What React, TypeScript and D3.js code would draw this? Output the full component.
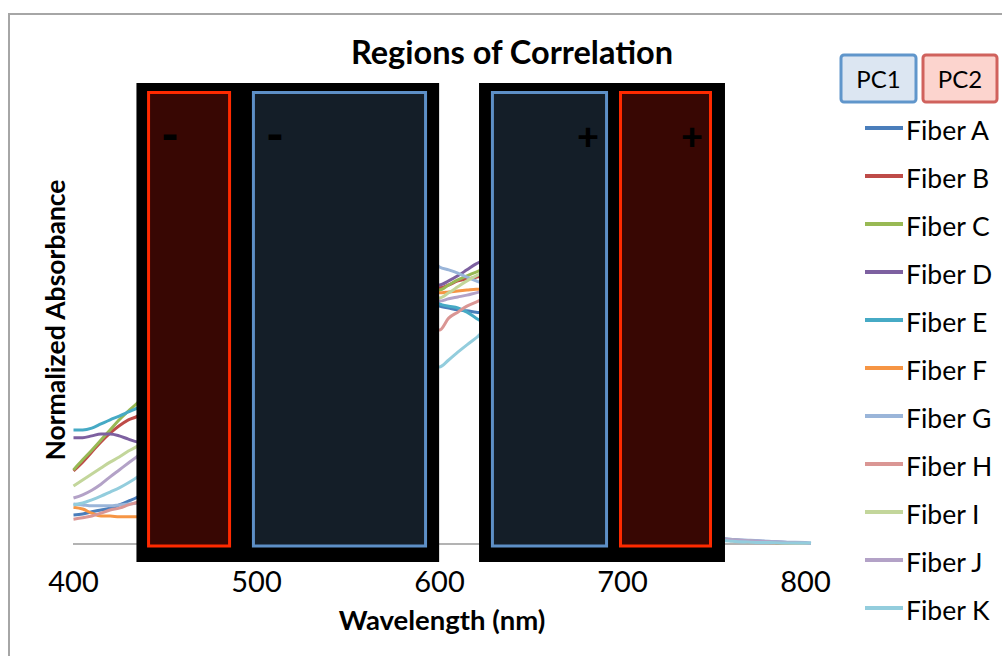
import React from "react";
import * as d3 from "d3";

const wavelengths = [400,405,410,415,420,425,430,435,460,500,540,570,595,600,605,610,615,620,625,650,700,745,750,760,770,780,790,800,803];

const fiberA = [0.063,0.065,0.070,0.074,0.078,0.085,0.093,0.102, 0.25,0.62,0.78,0.70,0.55, 0.517,0.513,0.509,0.507,0.504,0.502, 0.36,0.17,0.025,0.015, 0.008,0.006,0.004,0.002,0.001,0.001];
const fiberB = [0.159,0.178,0.200,0.222,0.241,0.257,0.270,0.278, 0.45,0.75,0.85,0.78,0.60, 0.557,0.563,0.572,0.576,0.580,0.583, 0.42,0.18,0.025,0.014, 0.008,0.006,0.004,0.002,0.001,0.001];
const fiberC = [0.161,0.183,0.204,0.226,0.248,0.270,0.289,0.307, 0.47,0.78,0.88,0.80,0.60, 0.552,0.563,0.574,0.583,0.591,0.598, 0.44,0.19,0.026,0.015, 0.009,0.006,0.004,0.002,0.001,0.001];
const fiberD = [0.231,0.231,0.235,0.239,0.239,0.235,0.228,0.222, 0.30,0.62,0.80,0.75,0.58, 0.563,0.572,0.583,0.596,0.609,0.617, 0.50,0.22,0.028,0.016, 0.009,0.007,0.005,0.003,0.001,0.001];
const fiberE = [0.248,0.248,0.252,0.261,0.270,0.278,0.287,0.296, 0.42,0.70,0.82,0.74,0.56, 0.522,0.517,0.513,0.504,0.491,0.478, 0.36,0.15,0.024,0.014, 0.008,0.006,0.004,0.002,0.001,0.001];
const fiberF = [0.080,0.076,0.067,0.061,0.061,0.059,0.059,0.059, 0.15,0.55,0.76,0.70,0.57, 0.546,0.548,0.550,0.552,0.554,0.554, 0.40,0.17,0.024,0.013, 0.007,0.005,0.003,0.002,0.001,0.001];
const fiberG = [0.087,0.085,0.083,0.083,0.083,0.085,0.087,0.089, 0.22,0.60,0.82,0.80,0.64, 0.602,0.596,0.589,0.580,0.572,0.563, 0.40,0.17,0.026,0.016, 0.010,0.008,0.006,0.004,0.003,0.002];
const fiberH = [0.054,0.057,0.061,0.067,0.074,0.078,0.085,0.091, 0.20,0.50,0.68,0.60,0.47, 0.465,0.491,0.504,0.517,0.526,0.533, 0.42,0.18,0.024,0.014, 0.008,0.006,0.004,0.002,0.001,0.001];
const fiberI = [0.126,0.139,0.152,0.165,0.178,0.189,0.202,0.213, 0.36,0.70,0.82,0.75,0.56, 0.535,0.546,0.559,0.572,0.583,0.591, 0.43,0.18,0.024,0.014, 0.008,0.006,0.004,0.002,0.001,0.001];
const fiberJ = [0.100,0.107,0.117,0.130,0.146,0.161,0.176,0.191, 0.33,0.65,0.78,0.70,0.56, 0.528,0.533,0.537,0.541,0.546,0.550, 0.42,0.18,0.025,0.015, 0.009,0.007,0.005,0.003,0.002,0.001];
const fiberK = [0.085,0.089,0.096,0.104,0.113,0.122,0.133,0.146, 0.27,0.55,0.60,0.50,0.40, 0.385,0.400,0.417,0.433,0.448,0.463, 0.36,0.16,0.020,0.011, 0.006,0.004,0.003,0.002,0.002,0.002];

const seriesNames = ["Fiber A","Fiber B","Fiber C","Fiber D","Fiber E","Fiber F","Fiber G","Fiber H","Fiber I","Fiber J","Fiber K"];
const seriesValues = [fiberA,fiberB,fiberC,fiberD,fiberE,fiberF,fiberG,fiberH,fiberI,fiberJ,fiberK];
const seriesColors = ["#4A7EBB","#BE4B48","#98B954","#7D60A0","#46AAC5","#F69544","#9AB5D9","#DA9694","#C3D69B","#B3A2C7","#93CDDD"];

const xTicks = [400,500,600,700,800];

// Regions of correlation (wavelength ranges)
const maskRegions = [[434.4, 599.8], [621.6, 756]];
const pcRegions = [
  { pc: "PC2", start: 440.2, end: 486.1, sign: "-" },
  { pc: "PC1", start: 497.5, end: 593.2, sign: "-" },
  { pc: "PC1", start: 628.1, end: 692.1, sign: "+" },
  { pc: "PC2", start: 698.1, end: 748.9, sign: "+" },
];

const FONT = "Lato, 'Open Sans', sans-serif";

export default function App() {
  const x = d3.scaleLinear().domain([400, 800]).range([73.5, 805.5]);
  const y = d3.scaleLinear().domain([0, 1]).range([544, 84]);
  const line = d3.line<number>()
    .x((_, i) => x(wavelengths[i]))
    .y((v) => y(v))
    .curve(d3.curveMonotoneX);

  const pcStyle: Record<string, { fill: string; stroke: string }> = {
    PC1: { fill: "#141e28", stroke: "#5d8fc6" },
    PC2: { fill: "#380703", stroke: "#ff2a00" },
  };

  const legendY = (i: number) => 128 + i * 48;

  return (
    <svg width={1002} height={656} style={{ position: "absolute", left: 0, top: 0, background: "#fff" }}>
      <rect x={9} y={14} width={1100} height={700} fill="#fff" stroke="#a6a6a6" strokeWidth={2} />

      <text x={512} y={64} textAnchor="middle" fontFamily={FONT} fontWeight={700} fontSize={32.5} fill="#000">
        Regions of Correlation
      </text>

      {/* axis baseline */}
      <line x1={73} x2={810} y1={y(0)} y2={y(0)} stroke="#b3b3b3" strokeWidth={2} />

      {/* series */}
      {seriesValues.map((vals, i) => (
        <path key={seriesNames[i]} d={line(vals) || ""} fill="none" stroke={seriesColors[i]} strokeWidth={3} strokeLinejoin="round" />
      ))}

      {/* black masks */}
      {maskRegions.map(([a, b], i) => (
        <rect key={"m" + i} x={x(a)} y={83} width={x(b) - x(a)} height={562 - 83} fill="#000" />
      ))}

      {/* PC regions */}
      {pcRegions.map((r, i) => (
        <g key={"pc" + i}>
          <rect x={x(r.start) + 1.5} y={92.5} width={x(r.end) - x(r.start) - 3} height={546 - 92.5}
            fill={pcStyle[r.pc].fill} stroke={pcStyle[r.pc].stroke} strokeWidth={3} />
          <text
            x={r.sign === "-" ? x(r.start) + 23 : x(r.end) - 20}
            y={r.sign === "-" ? 152 : 150}
            textAnchor="middle" fontFamily={FONT} fontWeight={900} fontSize={r.sign === "-" ? 48 : 38} fill="#000">
            {r.sign}
          </text>
        </g>
      ))}

      {/* x tick labels */}
      {xTicks.map((t) => (
        <text key={t} x={x(t)} y={592} textAnchor="middle" fontFamily={FONT} fontSize={29} fill="#000">{t}</text>
      ))}

      <text x={442} y={630} textAnchor="middle" fontFamily={FONT} fontWeight={700} fontSize={27.5} fill="#000">
        Wavelength (nm)
      </text>
      <text transform="translate(65,320) rotate(-90)" textAnchor="middle" fontFamily={FONT} fontWeight={700} fontSize={26.5} fill="#000">
        Normalized Absorbance
      </text>

      {/* PC legend boxes */}
      <rect x={841} y={55} width={75} height={47} rx={3} fill="#dce6f2" stroke="#6096cb" strokeWidth={3} />
      <text x={878.5} y={88} textAnchor="middle" fontFamily={FONT} fontSize={24} fill="#000">PC1</text>
      <rect x={923} y={55} width={74} height={47} rx={3} fill="#fcd4ce" stroke="#d0625d" strokeWidth={3} />
      <text x={960} y={88} textAnchor="middle" fontFamily={FONT} fontSize={24} fill="#000">PC2</text>

      {/* series legend */}
      {seriesNames.map((n, i) => (
        <g key={"lg" + n}>
          <line x1={865} x2={903} y1={legendY(i)} y2={legendY(i)} stroke={seriesColors[i]} strokeWidth={4} />
          <text x={906} y={legendY(i) + 12} fontFamily={FONT} fontSize={26.5} fill="#000">{n}</text>
        </g>
      ))}
    </svg>
  );
}
